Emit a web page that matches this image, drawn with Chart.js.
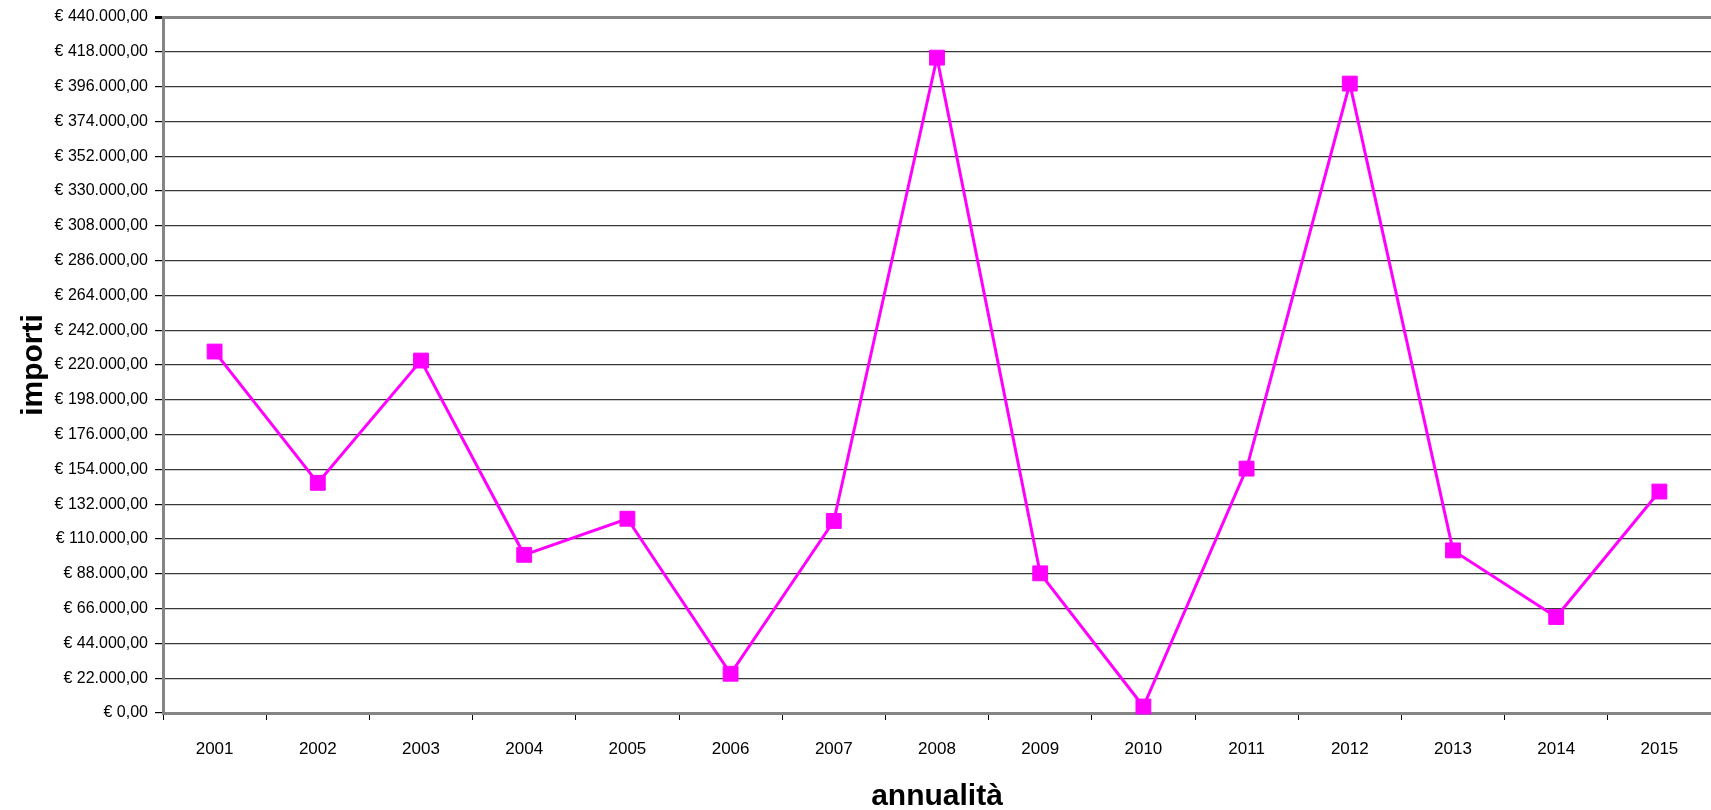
<!DOCTYPE html>
<html>
<head>
<meta charset="utf-8">
<script src="https://cdn.jsdelivr.net/npm/chart.js@4"></script>
<style>
  html, body { margin: 0; padding: 0; background: #fff; overflow: hidden; }
  #wrap { width: 1711px; height: 810px; }
  canvas { display: block; }
</style>
</head>
<body>
<div id="wrap"><canvas id="myChart" width="1711" height="810"></canvas></div>
<script>
const anni = ['2001','2002','2003','2004','2005','2006','2007','2008','2009','2010','2011','2012','2013','2014','2015']
const importi = [228500, 145500, 222800, 100000, 122800, 24800, 121400, 414300, 88300, 4100, 154500, 397900, 102800, 60700, 140000]
const yMax = 440000
const yStep = 22000

// formato italiano: € 22.000,00
function euro(v){
  const intPart = Math.round(v).toString().replace(/\B(?=(\d{3})+(?!\d))/g, '.')
  return '€ ' + intPart + ',00'
}

const FONT = '"Liberation Sans", Arial, sans-serif'
const ctx = document.getElementById('myChart')

new Chart(ctx, {
  type: 'line',
  data: {
    labels: anni,
    datasets: [{
      label: 'importi',
      data: importi,
      borderColor: '#ff00ff',
      backgroundColor: '#ff00ff',
      borderWidth: 3,
      pointStyle: 'rect',
      pointRadius: 10.5,
      pointBorderWidth: 1,
      pointBorderColor: '#ff00ff',
      pointBackgroundColor: '#ff00ff',
      tension: 0,
      clip: false
    }]
  },
  options: {
    responsive: false,
    animation: false,
    devicePixelRatio: 1,
    layout: { autoPadding: false, padding: { top: 17, right: -3, left: 0, bottom: 0 } },
    plugins: {
      legend: { display: false },
      tooltip: { enabled: false }
    },
    scales: {
      x: {
        offset: true,
        afterFit: function(scale){
          scale.height = 97
          scale.paddingLeft = 0
          scale.paddingRight = 0
        },
        grid: {
          display: true,
          offset: true,
          drawOnChartArea: false,
          drawTicks: true,
          tickLength: 7,
          color: '#000'
        },
        border: { display: true, color: '#858585', width: 3 },
        ticks: {
          color: '#000',
          padding: 19,
          maxRotation: 0,
          font: { family: FONT, size: 17 }
        },
        title: {
          display: true,
          text: 'annualità',
          color: '#000',
          font: { family: FONT, size: 30, weight: 'bold', lineHeight: 0.9 },
          padding: { top: 0, bottom: 0 }
        }
      },
      y: {
        min: 0,
        max: yMax,
        afterFit: function(scale){ scale.width = 163 },
        grid: {
          color: function(c){ return c.tick && c.tick.value === yMax ? '#858585' : '#383838' },
          lineWidth: function(c){ return c.tick && c.tick.value === yMax ? 3 : 1.2 },
          tickColor: '#000',
          tickLength: 8
        },
        border: { display: true, color: '#858585', width: 3 },
        ticks: {
          stepSize: yStep,
          color: '#000',
          padding: 7,
          font: { family: FONT, size: 16 },
          callback: function(v){ return euro(v) }
        },
        title: {
          display: true,
          text: 'importi',
          color: '#000',
          font: { family: FONT, size: 30, weight: 'bold', lineHeight: 0.9 },
          padding: { top: 20, bottom: 0 }
        }
      }
    }
  }
})
</script>
</body>
</html>
